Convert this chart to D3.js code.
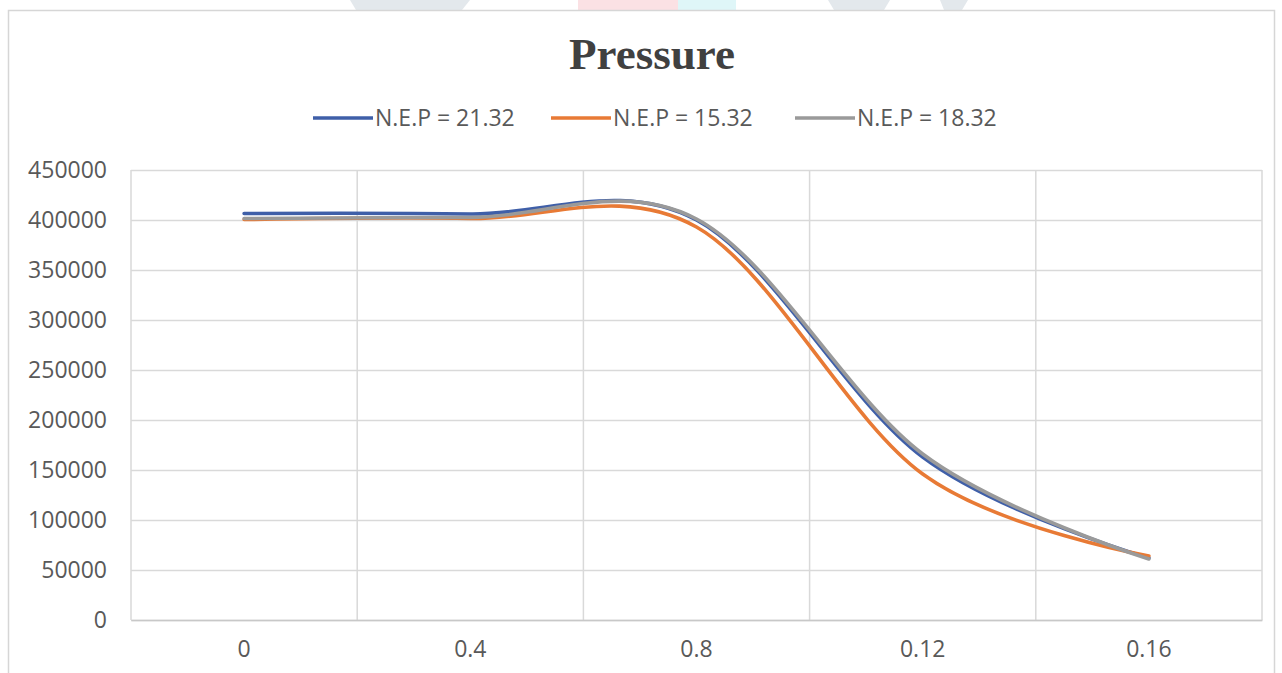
<!DOCTYPE html>
<html>
<head>
<meta charset="utf-8">
<script src="https://cdn.jsdelivr.net/npm/d3@7"></script>
<style>
  html, body { margin: 0; padding: 0; background: #ffffff; }
  svg { display: block; }
</style>
</head>
<body>
<svg id="chart" width="1282" height="673"></svg>
<script>
// Pressure along the stroke, three nozzle exit pressure cases
const categories = ["0", "0.4", "0.8", "0.12", "0.16"];
const nep2132 = [406500, 406000, 400000, 163000, 62000];
const nep1532 = [400500, 401500, 393000, 146000, 64000];
const nep1832 = [401500, 402500, 401000, 166000, 61000];
const seriesNames = ["N.E.P = 21.32", "N.E.P = 15.32", "N.E.P = 18.32"];
const seriesColors = ["#3f5fa8", "#e87a35", "#9a9a9a"];
const yTicks = [0, 50000, 100000, 150000, 200000, 250000, 300000, 350000, 400000, 450000];

const series = [nep2132, nep1532, nep1832].map((vals, i) => ({
  name: seriesNames[i],
  color: seriesColors[i],
  points: categories.map((c, j) => ({ cat: c, value: vals[j] }))
}));

const svg = d3.select("#chart");
const plot = { left: 131, right: 1262, top: 170, bottom: 620 };

// faint backdrop shapes along the top edge of the page
const backdrop = svg.append("g");
backdrop.append("path").attr("d", "M350,0 L470,0 L462,10 L356,10 Z").attr("fill", "#e3e8ec");
backdrop.append("rect").attr("x", 578).attr("y", 0).attr("width", 100).attr("height", 10).attr("fill", "#fbe1e4");
backdrop.append("rect").attr("x", 678).attr("y", 0).attr("width", 58).attr("height", 10).attr("fill", "#dff6f8");
backdrop.append("path").attr("d", "M828,0 L890,0 L884,10 L834,10 Z").attr("fill", "#e3e8ec");
backdrop.append("path").attr("d", "M940,0 L968,0 L962,10 L944,10 Z").attr("fill", "#e3e8ec");

// chart frame
svg.append("rect")
  .attr("x", 8.5).attr("y", 10.5).attr("width", 1266).attr("height", 670)
  .attr("fill", "#ffffff").attr("stroke", "#d6d6d6").attr("stroke-width", 1.5);

const x = d3.scaleBand().domain(categories).range([plot.left, plot.right]).paddingInner(0).paddingOuter(0);
const y = d3.scaleLinear().domain([0, 450000]).range([plot.bottom, plot.top]);
const cx = c => x(c) + x.bandwidth() / 2;

const labelFont = "'Open Sans', sans-serif";

// horizontal gridlines + y labels
const yAxis = d3.axisLeft(y).tickValues(yTicks).tickSize(-(plot.right - plot.left)).tickPadding(24).tickFormat(d3.format("d"));
const gy = svg.append("g").attr("transform", `translate(${plot.left},0)`).call(yAxis);
gy.select(".domain").remove();
gy.selectAll(".tick line").attr("stroke", "#d9d9d9").attr("stroke-width", 1.5);
gy.selectAll(".tick text")
  .attr("fill", "#595959")
  .style("font-family", labelFont)
  .style("font-size", "23px");

// vertical gridlines at category boundaries
const bounds = categories.map(c => x(c)).concat([plot.right]);
svg.append("g").selectAll("line").data(bounds).join("line")
  .attr("x1", d => d).attr("x2", d => d)
  .attr("y1", plot.top).attr("y2", plot.bottom)
  .attr("stroke", "#d9d9d9").attr("stroke-width", 1.5);

// x axis labels
const xAxis = d3.axisBottom(x).tickSize(0).tickPadding(21);
const gx = svg.append("g").attr("transform", `translate(0,${plot.bottom})`).call(xAxis);
gx.select(".domain").attr("stroke", "#c8c8c8").attr("stroke-width", 1.5);
gx.selectAll(".tick text")
  .attr("fill", "#595959")
  .style("font-family", labelFont)
  .style("font-size", "23px");

// smoothed series lines
const line = d3.line()
  .x(d => cx(d.cat))
  .y(d => y(d.value))
  .curve(d3.curveCatmullRom.alpha(0));

svg.append("g").selectAll("path").data(series).join("path")
  .attr("d", d => line(d.points))
  .attr("fill", "none")
  .attr("stroke", d => d.color)
  .attr("stroke-width", 3.6)
  .attr("stroke-linecap", "round")
  .attr("stroke-linejoin", "round");

// title
svg.append("text")
  .attr("x", 652).attr("y", 69)
  .attr("text-anchor", "middle")
  .attr("fill", "#404040")
  .style("font-family", "'Liberation Serif', 'Times New Roman', serif")
  .style("font-weight", "bold")
  .style("font-size", "45px")
  .text("Pressure");

// legend
const legendX = [313, 551, 795];
const legend = svg.append("g").selectAll("g").data(series).join("g")
  .attr("transform", (d, i) => `translate(${legendX[i]},118)`);
legend.append("line")
  .attr("x1", 0).attr("x2", 60).attr("y1", 0).attr("y2", 0)
  .attr("stroke", d => d.color).attr("stroke-width", 3.6);
legend.append("text")
  .attr("x", 62).attr("y", 0).attr("dy", "0.35em")
  .attr("fill", "#595959")
  .style("font-family", labelFont)
  .style("font-size", "23px")
  .text(d => d.name);
</script>
</body>
</html>
